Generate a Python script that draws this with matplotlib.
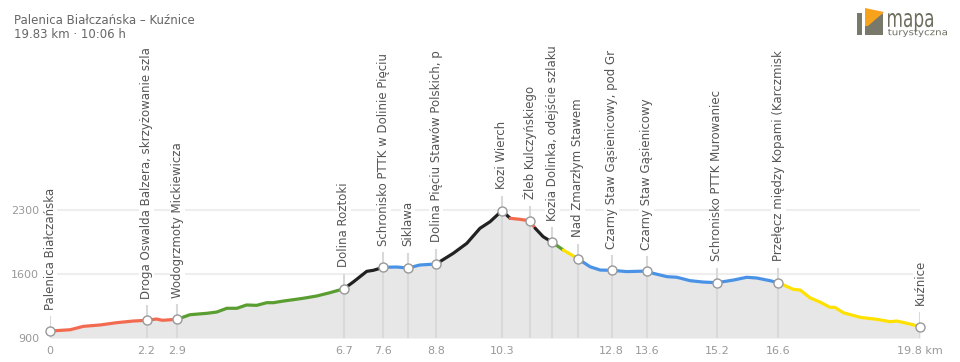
"""Elevation profile: Palenica Białczańska – Kuźnice."""

import matplotlib.pyplot as plt
from matplotlib.font_manager import FontProperties
from matplotlib.patches import PathPatch, Polygon
from matplotlib.textpath import TextPath
from matplotlib.transforms import Affine2D

# profile (km, m a.s.l.)
dist = [0, 0.46, 0.76, 1.14, 1.52, 1.90, 2.2, 2.43, 2.56, 2.9,
        3.19, 3.57, 3.80, 4.03, 4.26, 4.48, 4.71, 4.94, 5.09, 5.32,
        5.55, 5.77, 6.08, 6.38, 6.7, 6.91, 7.22, 7.37, 7.6, 7.9,
        8.16, 8.43, 8.8, 9.19, 9.5, 9.80, 10.03, 10.3, 10.49, 10.71,
        10.93, 11.06, 11.24, 11.45, 11.70, 12.03, 12.31, 12.54, 12.8, 13.15,
        13.6, 13.75, 14.06, 14.29, 14.59, 14.89, 15.2, 15.58, 15.88, 16.11,
        16.41, 16.6, 16.94, 17.10, 17.32, 17.55, 17.78, 17.89, 18.08, 18.47,
        18.84, 19.15, 19.30, 19.60, 19.83]
elev = [976, 990, 1027, 1042, 1067, 1085, 1093, 1107, 1093, 1104,
        1154, 1169, 1183, 1224, 1224, 1260, 1256, 1285, 1285, 1303,
        1318, 1333, 1358, 1394, 1437, 1510, 1627, 1638, 1671, 1674,
        1663, 1696, 1707, 1823, 1932, 2096, 2168, 2288, 2205, 2194,
        2179, 2096, 2005, 1943, 1859, 1765, 1677, 1641, 1638, 1624,
        1630, 1605, 1569, 1562, 1525, 1510, 1503, 1532, 1562, 1554,
        1525, 1503, 1431, 1423, 1339, 1292, 1234, 1234, 1176, 1125,
        1104, 1078, 1085, 1053, 1024]

# trail colour per stretch: (from km, to km, colour)
seg_from = [0, 2.9, 6.7, 7.6, 8.8, 10.49, 11.06, 11.45, 11.70, 12.03, 16.6]
seg_to = [2.9, 6.7, 7.6, 8.8, 10.49, 11.06, 11.45, 11.70, 12.03, 16.6, 19.83]
seg_color = ["#f26b50", "#5a9e32", "#222222", "#4a92e6", "#222222", "#f26b50",
             "#222222", "#5a9e32", "#ffe100", "#4a92e6", "#ffe100"]

# waypoints
wp_names = [
    "Palenica Białczańska",
    "Droga Oswalda Balzera, skrzyżowanie szla",
    "Wodogrzmoty Mickiewicza",
    "Dolina Roztoki",
    "Schronisko PTTK w Dolinie Pięciu",
    "Siklawa",
    "Dolina Pięciu Stawów Polskich, p",
    "Kozi Wierch",
    "Żleb Kulczyńskiego",
    "Kozia Dolinka, odejście szlaku",
    "Nad Zmarzłym Stawem",
    "Czarny Staw Gąsienicowy, pod Gr",
    "Czarny Staw Gąsienicowy",
    "Schronisko PTTK Murowaniec",
    "Przełęcz między Kopami (Karczmisk",
    "Kuźnice",
]
wp_km = [0, 2.2, 2.9, 6.7, 7.6, 8.16, 8.8, 10.3, 10.93, 11.45, 12.03,
         12.8, 13.6, 15.2, 16.6, 19.83]
wp_elev = [976, 1093, 1104, 1437, 1671, 1663, 1707, 2288, 2179, 1943, 1765,
           1638, 1630, 1503, 1503, 1024]

xtick_pos = [0, 2.2, 2.9, 6.7, 7.6, 8.8, 10.3, 12.8, 13.6, 15.2, 16.6, 19.83]
xtick_lab = ["0", "2.2", "2.9", "6.7", "7.6", "8.8", "10.3", "12.8", "13.6",
             "15.2", "16.6", "19.8 km"]
ytick_pos = [900, 1600, 2300]

W, H = 960, 362
M_PER_PX = 700 / 64.2


def px(x, y):
    return x / W, 1 - y / H


def logo_text(fig, s, x0, x1, ytop, ybot, color):
    # squeeze the glyph outline into a pixel box (logo font is narrow)
    path = TextPath((0, 0), s, size=10, prop=FontProperties(family="DejaVu Sans"))
    ext = path.get_extents()
    tr = (Affine2D().translate(-ext.x0, -ext.y0)
          .scale((x1 - x0) / ext.width, (ybot - ytop) / ext.height)
          .translate(x0, H - ybot))
    fig.add_artist(PathPatch(path, fc=color, lw=0, transform=tr))


def main():
    plt.rcParams["font.family"] = ["DejaVu Sans"]
    fig = plt.figure(figsize=(W / 100, H / 100), dpi=100)
    ax = fig.add_axes([50 / W, 24 / H, 870 / W, 338 / H])
    ax.set_xlim(0, 19.83)
    ax.set_ylim(900, 900 + 338 * M_PER_PX)
    for s in ax.spines.values():
        s.set_visible(False)

    for y in ytick_pos[1:]:
        ax.plot([0, 19.83], [y, y], color="#eeeeee", lw=1.5, zorder=0)

    ax.fill_between(dist, elev, 900, color="#e7e7e7", lw=0, zorder=1)

    for x, e in zip(wp_km, wp_elev):
        ax.plot([x, x], [900, e + 14 * M_PER_PX], color="#d9d9d9", lw=1.5, zorder=2)

    for a, b, c in zip(seg_from, seg_to, seg_color):
        i0, i1 = dist.index(a), dist.index(b)
        ax.plot(dist[i0:i1 + 1], elev[i0:i1 + 1], color=c, lw=2.3,
                solid_capstyle="round", zorder=3)

    ax.plot(wp_km, wp_elev, "o", ms=6.5, mfc="white", mec="#999999", mew=1,
            zorder=4, clip_on=False)

    for name, x, e in zip(wp_names, wp_km, wp_elev):
        ax.annotate(name, (x, e), xytext=(0, 15.5), textcoords="offset points",
                    rotation=90, ha="center", va="bottom", fontsize=8.5,
                    color="#555555", annotation_clip=False,
                    bbox=dict(fc="white", ec="none", pad=0.6), zorder=5)

    ax.set_xticks(xtick_pos, xtick_lab)
    ax.set_yticks(ytick_pos)
    ax.tick_params(length=0, labelsize=8, labelcolor="#999999")
    ax.tick_params(axis="x", pad=6)
    ax.tick_params(axis="y", pad=8)

    fig.text(14 / W, 1 - 20 / H, "Palenica Białczańska – Kuźnice", fontsize=8.5,
             color="#666666", va="center")
    fig.text(14 / W, 1 - 35 / H, "19.83 km · 10:06 h", fontsize=8.5,
             color="#666666", va="center")

    # logo
    grey = "#78786b"
    fig.add_artist(Polygon([px(857, 13), px(862, 13), px(862, 35), px(857, 35)],
                           closed=True, fc=grey, ec="none", transform=fig.transFigure))
    fig.add_artist(Polygon([px(865, 26), px(883, 13), px(883, 35), px(865, 35)],
                           closed=True, fc=grey, ec="none", transform=fig.transFigure))
    fig.add_artist(Polygon([px(865, 8), px(884, 12), px(868, 26), px(865, 26)],
                           closed=True, fc="#f7a21b", ec="none", transform=fig.transFigure))
    logo_text(fig, "mapa", 888, 933, 13, 32, "#6d6d60")
    logo_text(fig, "turystyczna", 888, 947, 29, 37, "#6d6d60")

    fig.savefig("out.png", dpi=100)
    plt.close(fig)


if __name__ == "__main__":
    main()
